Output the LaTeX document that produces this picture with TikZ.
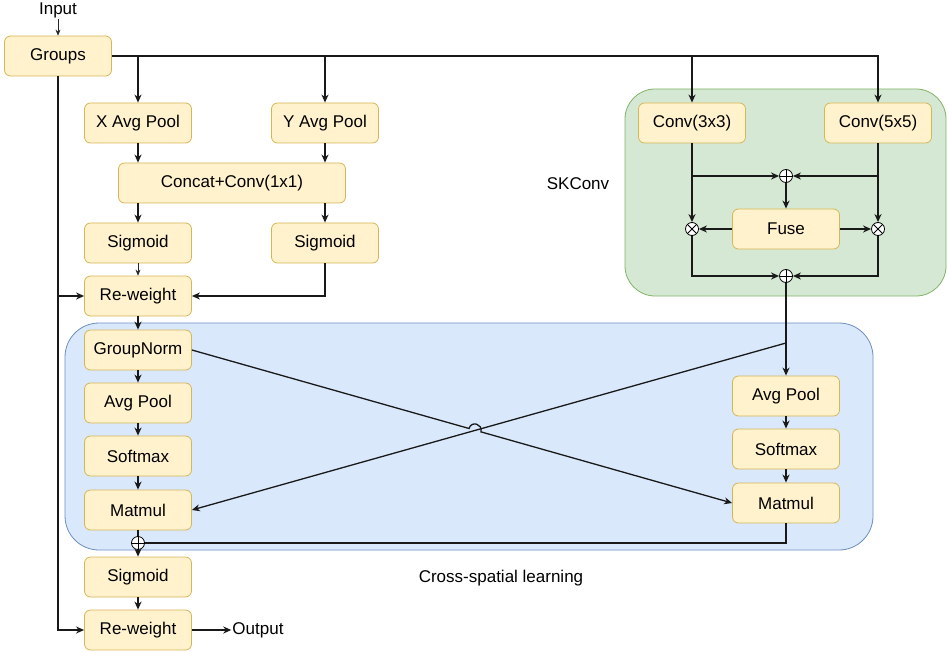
\documentclass[tikz,border=0pt]{standalone}
\usepackage{fontspec}
\setmainfont{Liberation Sans}
\definecolor{boxfill}{HTML}{FFF2CC}
\definecolor{boxline}{HTML}{D6B656}
\definecolor{skfill}{HTML}{D5E8D4}
\definecolor{skline}{HTML}{82B366}
\definecolor{csfill}{HTML}{DAE8FC}
\definecolor{csline}{HTML}{6C8EBF}
\usetikzlibrary{arrows.meta,positioning,calc}

\begin{document}
\begin{tikzpicture}[x=1pt, y=-1pt,
    box/.style={rectangle, rounded corners=6pt, draw=boxline, fill=boxfill, line width=0.8pt,
                minimum width=107pt, minimum height=40pt, align=center, font=\fontsize{17pt}{20pt}\selectfont},
    region/.style={rectangle, line width=0.8pt, inner sep=0pt},
    lbl/.style={inner sep=1pt, font=\fontsize{17pt}{20pt}\selectfont},
    opl/.style={circle, draw, fill=white, line width=0.8pt, minimum size=13pt, inner sep=0pt,
                path picture={\draw[line width=0.8pt] (path picture bounding box.north) -- (path picture bounding box.south)
                              (path picture bounding box.west) -- (path picture bounding box.east);}},
    otm/.style={circle, draw, fill=white, line width=0.8pt, minimum size=13pt, inner sep=0pt,
                path picture={\draw[line width=0.8pt] (path picture bounding box.north west) -- (path picture bounding box.south east)
                              (path picture bounding box.north east) -- (path picture bounding box.south west);}},
    conn/.style={line width=1.3pt, black!90},
    arr/.style={conn, -{Stealth[length=8pt,width=7pt,inset=2.5pt]}},
    arrs/.style={line width=0.6pt, black!85, -{Stealth[length=6pt,width=5pt,inset=2pt]}}
  ]
    \useasboundingbox (0,0) rectangle (949,652);

    % Regions
    \node[region, rounded corners=30pt, draw=skline, fill=skfill, minimum width=321pt, minimum height=207pt]
          (skreg) at (785.5,192.5) {};
    \node[region, rounded corners=34pt, draw=csline, fill=csfill, minimum width=808pt, minimum height=227pt]
          (csreg) at (469,436.5) {};
    \node[lbl] (sklbl) at (578,184) {SKConv};
    \node[lbl] (cslbl) at (501,578) {Cross-spatial learning};

    % Input
    \node[lbl] (inp)    at (58,10)   {Input};
    \node[box] (groups) at (58,56)   {Groups};

    % Coordinate attention
    \node[box] (xpool)  at (138,123) {X Avg Pool};
    \node[box] (ypool)  at (325,123) {Y Avg Pool};
    \node[box, minimum width=227pt] (concat) at (232,183) {Concat+Conv(1x1)};
    \node[box] (sigx)   at (138,243) {Sigmoid};
    \node[box] (sigy)   at (325,243) {Sigmoid};
    \node[box] (rwa)    at (138,296) {Re-weight};

    % SKConv
    \node[box] (conv3)  at (692,123) {Conv(3x3)};
    \node[box] (conv5)  at (878,123) {Conv(5x5)};
    \node[opl] (sumtop) at (786,176) {};
    \node[box] (fuse)   at (786,229) {Fuse};
    \node[otm] (mulL)   at (692,229) {};
    \node[otm] (mulR)   at (878,229) {};
    \node[opl] (sumbot) at (786,276) {};

    % Cross-spatial learning
    \node[box] (gn)     at (138,350) {GroupNorm};
    \node[box] (poolL)  at (138,403) {Avg Pool};
    \node[box] (smL)    at (138,456) {Softmax};
    \node[box] (mmL)    at (138,510) {Matmul};
    \node[box] (poolR)  at (786,396) {Avg Pool};
    \node[box] (smR)    at (786,449) {Softmax};
    \node[box] (mmR)    at (786,503) {Matmul};
    \node[opl] (sumcs)  at (138,543) {};

    % Output
    \node[box] (sigo)   at (138,577) {Sigmoid};
    \node[box] (rwb)    at (138,630) {Re-weight};
    \node[lbl] (outp)   at (258,630) {Output};

    % Connections
    \draw[arrs] (inp.south) -- (groups.north);
    \draw[arr] (groups.east) -| (conv5.north);
    \draw[arr] (xpool |- groups.east) -- (xpool.north);
    \draw[arr] (ypool |- groups.east) -- (ypool.north);
    \draw[arr] (conv3 |- groups.east) -- (conv3.north);
    \draw[arr] (groups.south) |- (rwb.west);
    \draw[arr] (groups.south |- rwa.west) -- (rwa.west);

    \draw[arr] (xpool.south) -- (xpool |- concat.north);
    \draw[arr] (ypool.south) -- (ypool |- concat.north);
    \draw[arr] (sigx |- concat.south) -- (sigx.north);
    \draw[arr] (sigy |- concat.south) -- (sigy.north);
    \draw[arrs] (sigx.south) -- (rwa.north);
    \draw[arr] (sigy.south) |- (rwa.east);
    \draw[arr] (rwa.south) -- (gn.north);

    \draw[arr] (conv3.south) -- (mulL.north);
    \draw[arr] (conv5.south) -- (mulR.north);
    \draw[arr] (conv3 |- sumtop) -- (sumtop.west);
    \draw[arr] (conv5 |- sumtop) -- (sumtop.east);
    \draw[arr] (sumtop.south) -- (fuse.north);
    \draw[arr] (fuse.west) -- (mulL.east);
    \draw[arr] (fuse.east) -- (mulR.west);
    \draw[arr] (mulL.south) |- (sumbot.west);
    \draw[arr] (mulR.south) |- (sumbot.east);
    \draw[arr] (sumbot.south) -- (poolR.north);

    \draw[arr] (gn.south) -- (poolL.north);
    \draw[arr] (poolL.south) -- (smL.north);
    \draw[arr] (smL.south) -- (mmL.north);
    \draw[arr] (poolR.south) -- (smR.north);
    \draw[arr] (smR.south) -- (mmR.north);

    \coordinate (brk) at (786,343);
    \draw[arr] (brk) -- (mmL.east);
    \coordinate (hopA) at ($(gn.east)!0.513!(mmR.west)$);
    \coordinate (hopB) at ($(gn.east)!0.535!(mmR.west)$);
    \draw[arr] (gn.east) -- (hopA) .. controls ($(hopA)+(2.2,-8)$) and ($(hopB)+(2.2,-8)$) .. (hopB) -- (mmR.west);

    \draw[conn] (mmL.south) -- (sumcs.north);
    \draw[conn] (mmR.south) |- (sumcs.east);
    \draw[arr] (sumcs.south) -- (sigo.north);
    \draw[arr] (sigo.south) -- (rwb.north);
    \draw[arr] (rwb.east) -- (outp.west);
  \end{tikzpicture}
\end{document}
